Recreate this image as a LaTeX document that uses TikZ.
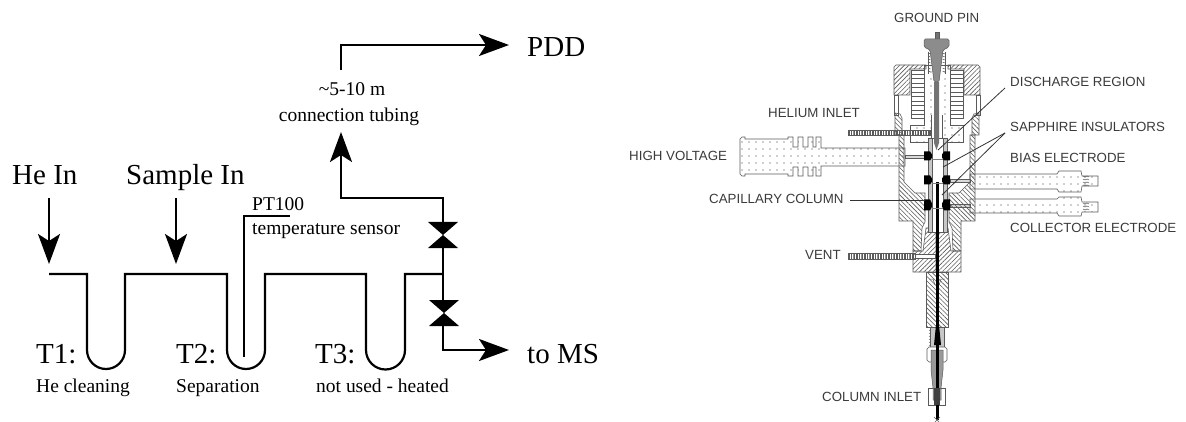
\documentclass[tikz,border=0pt]{standalone}
\usepackage{fontspec}
\setmainfont{Liberation Serif}
\newfontfamily\labfont{Liberation Sans}
\usetikzlibrary{arrows.meta,patterns.meta}
\definecolor{edge}{HTML}{5A5A5A}
\definecolor{hatch}{HTML}{5A5A5A}
\definecolor{labgray}{HTML}{3A3A3A}
\tikzset{
  pipe/.style={line width=2.2pt,line join=miter},
  flow/.style={pipe,-{Stealth[length=30pt,width=22pt,inset=7pt]}},
  big/.style={anchor=base west,inner sep=0pt,font=\fontsize{29}{32}\selectfont},
  small/.style={anchor=base west,inner sep=0pt,font=\fontsize{19.5}{22}\selectfont},
  valve/.style={rectangle,inner sep=0pt,minimum width=30pt,minimum height=26pt,
    path picture={\fill[black] (path picture bounding box.north west)--(path picture bounding box.north east)--(path picture bounding box.south west)--(path picture bounding box.south east)--cycle;}},
  lab/.style={anchor=base west,inner sep=0pt,text=labgray,font=\labfont\fontsize{13.3}{15}\selectfont},
  leader/.style={line width=.8pt,draw=black!80},
  ne/.style={draw=edge,line width=.6pt,pattern={Lines[angle=45,distance=3.2pt,line width=.6pt]},pattern color=hatch},
  nw/.style={draw=edge,line width=.6pt,pattern={Lines[angle=-45,distance=3.2pt,line width=.6pt]},pattern color=hatch},
  dotty/.style={draw=edge,line width=.6pt,fill=white,postaction={pattern={Dots[distance=7pt,radius=.55pt]},pattern color=black!80}},
  wall/.style={draw=edge,line width=.6pt,fill=white},
  ins/.style={fill=black},
}
\begin{document}
\begin{tikzpicture}[x=1pt,y=-1pt]
\useasboundingbox (0,0) rectangle (1186,422);
% ---------- left scheme ----------
\node[big] (hein) at (12,185) {He In};
\node[big] (samplein) at (126,185) {Sample In};
\node[big] (t1) at (36,363) {T1:};
\node[big] (t2) at (176,363) {T2:};
\node[big] (t3) at (315,363) {T3:};
\node[big] (pdd) at (527,57) {PDD};
\node[big] (toms) at (527,363) {to MS};
\node[small] (he) at (36,392) {He cleaning};
\node[small] (sep) at (176,392) {Separation};
\node[small] (notused) at (316,392) {not used - heated};
\node[small] (pt) at (252,211) {PT100};
\node[small] (temp) at (252,235) {temperature sensor};
\node[small,anchor=base] (len) at (352,96) {\textasciitilde5-10 m};
\node[small,anchor=base] (tubing) at (349,122) {connection tubing};
\node[valve] (v1) at (443,235) {};
\node[valve] (v2) at (444,313) {};
\coordinate (start) at (49,274);
\coordinate (junction) at (443,274);
\coordinate (heTop) at (49,198);
\coordinate (sTop) at (176,198);
\coordinate (sTip) at (176,264);
\coordinate (heTip) at (49,264);
\coordinate (upTip) at (341,132);
\coordinate (pddStart) at (341,70);
\coordinate (pddTip) at (509,45);
\coordinate (msTip) at (509,350);
\coordinate (sensorEnd) at (244,357);
\coordinate (sensorTop) at (290,216);
\draw[flow] (heTop) -- (heTip);
\draw[flow] (sTop) -- (sTip);
\draw[pipe] (start) -- (87,274) -- (87,350) arc[start angle=180,end angle=0,radius=19] -- (125,274)
  -- (227,274) -- (227,350) arc[start angle=180,end angle=0,radius=19] -- (265,274)
  -- (366,274) -- (366,350) arc[start angle=180,end angle=0,radius=19.5] -- (405,274) -- (junction);
\draw[line width=1.8pt] (sensorEnd) |- (sensorTop);
\draw[pipe] (junction) -- (v1.south);
\draw[flow] (v1.north) -- (443,198) -- (341,198) -- (upTip);
\draw[flow] (pddStart) |- (pddTip);
\draw[pipe] (junction) -- (443,300);
\draw[flow] (443,326) |- (msTip);
% ---------- right labels ----------
\node[lab] (ground) at (894,23) {GROUND PIN};
\node[lab] (helium) at (768,118) {HELIUM INLET};
\node[lab] (hv) at (629,161) {HIGH VOLTAGE};
\node[lab] (cap) at (709,204) {CAPILLARY COLUMN};
\node[lab] (disch) at (1010,87) {DISCHARGE REGION};
\node[lab] (sapph) at (1010,132) {SAPPHIRE INSULATORS};
\node[lab] (bias) at (1010,163) {BIAS ELECTRODE};
\node[lab] (coll) at (1010,233) {COLLECTOR ELECTRODE};
\node[lab] (vent) at (805,259) {VENT};
\node[lab] (colin) at (822,401) {COLUMN INLET};
% ---------- horizontal connectors ----------
\filldraw[dotty] (740,139)--(742,137)--(745,137)--(745,139)--(788,139)--(788,137)--(793,137)--(793,147)--(798,147)--(798,137)--(803,137)--(803,147)--(808,147)--(808,137)--(813,137)--(813,147)--(816,147)--(816,137)--(821,137)--(821,148)
  --(905,148)--(905,166)--(821,166)--(821,176)--(816,176)--(816,167)--(813,167)--(813,176)--(808,176)--(808,167)--(803,167)--(803,176)--(798,176)--(798,167)--(793,167)--(793,176)--(788,176)--(788,174)--(745,174)--(745,176)--(742,176)--(740,174)--cycle;
\draw[draw=edge,fill=black!15,line width=.5pt] (905,155) rectangle (925,158);
\filldraw[dotty] (970,174)--(1057,174)--(1059,171)--(1081,171)--(1082,176)--(1098,176)--(1098,186)--(1082,186)--(1081,192)--(1059,192)--(1057,189)--(970,189)--cycle;
\filldraw[dotty] (970,199)--(1057,199)--(1059,197)--(1081,197)--(1082,202)--(1098,202)--(1098,212)--(1082,212)--(1081,216)--(1059,216)--(1057,213)--(970,213)--cycle;
\draw[draw=edge,fill=black!15,line width=.5pt] (950,179) rectangle (970,182);
\draw[draw=edge,fill=black!15,line width=.5pt] (950,204) rectangle (970,207);
\foreach \yy in {176,179,182,185,203,206,209}
  \draw[edge,line width=.5pt] (1083,\yy) -- ++(2,1) -- ++(2,-1) -- ++(2,1);
% ---------- device body ----------
\begin{scope}[shift={(937,0)}]
  % dotted insulator
  \filldraw[dotty] (-13,65)--(13,65)--(13,125)--(26,125)--(26,142)--(-27,142)--(-27,125)--(-13,125)--cycle;
  \foreach \s in {1,-1}{
  \begin{scope}[xscale=\s]
    % cap
    \filldraw[wall] (-43,95)--(-43,115)--(-39,115)--(-39,95)--cycle;
    \filldraw[ne] (-41,65)--(-11,65)--(-11,69)--(-27,69)--(-27,95)--(-43,95)--(-43,67)--cycle;
    \filldraw[wall] (-26,70) rectangle (-13,118);
    \foreach \yy in {74,78.5,83,87.5,92,96.5,101,105.5,110,114.5}
      \draw[edge,line width=.6pt] (-26,\yy) -- (-13,\yy);
    % clip
    \filldraw[nw] (-42,113)--(-37,114)--(-35,118)--(-35,135)--(-42,135)--cycle;
    % wall, flange and outer lower body
    \filldraw[nw] (-38,135)--(-33,135)--(-33,182)--(-22,193)--(-12,193)--(-12,222)--(-15,228)--(-16,251)--(-24,251)--(-24,221)--(-38,221)--cycle;
    % inner cone and lower block
    \filldraw[ne] (-11,228)--(-1,228)--(-1,272)--(-24,272)--(-24,251)--(-14,251)--cycle;
    % sleeve
    \filldraw[nw] (-11,272)--(-1,272)--(-1,327)--(-11,327)--cycle;
    \draw[edge,line width=.5pt] (-8,279)--(-4,279)--(-2,285);
    \foreach \yy in {330,333,336,339,342,345} \draw[edge,line width=.5pt] (-8,\yy) -- (-6,\yy+1);
  \end{scope}}
  % thread and nut
  \filldraw[draw=edge,fill=black!22,line width=.5pt] (-7,327) -- (7,327) -- (7,347) -- (-7,347) -- cycle;
  \filldraw[wall] (-10,349) -- (-8,347) -- (8,347) -- (10,349) -- (10,360) -- (8,362) -- (-8,362) -- (-10,360) -- cycle;
  \filldraw[draw=edge,fill=black!40,line width=.5pt] (-6,350)--(6,350)--(6,370)--(4,388)--(4,400)--(-4,400)--(-4,388)--(-6,370)--cycle;
  \draw[draw=edge,line width=.7pt] (-9,388) rectangle (8,405);
  % tube
  \filldraw[wall] (-9,138) rectangle (10,232);
  \fill[black!22] (-9,138) rectangle (-5,232) (6,138) rectangle (10,232);
  \draw[edge,line width=.6pt] (-9,138) rectangle (10,232) (-5,138)--(-5,232) (6,138)--(6,232);
  % pin
  \fill[black!55] (-3,82)--(2,82)--(2,143)--(-0.5,150)--(-3,143)--cycle;
  \draw[edge,line width=.5pt] (-6,115)--(-6,138) (5,115)--(5,138);
  \filldraw[draw=edge,line width=.5pt,fill=black!55] (-1.5,32) rectangle (2,40);
  \filldraw[draw=edge,line width=.5pt,fill=black!45,rounded corners=1.5pt] (-13,39)--(12,39)--(12,47)--(6,50)--(2,82)--(-3,82)--(-7,50)--(-13,47)--cycle;
  \foreach \yy in {53,56,59,62,65,68,71} \draw[edge,line width=.5pt] (-9,\yy)--(-6.5,\yy+1) (5.5,\yy)--(8,\yy+1);
  \draw[edge,line width=.5pt] (-9,52)--(-9,74) (8,52)--(8,74);
  % capillary
  \fill[black] (-1,182) rectangle (2,420);
  \fill[black] (-1,325)--(2,325)--(4,345)--(-3,345)--cycle;
  \fill[black!75] (-3,388)--(3,388)--(3,405)--(-3,405)--cycle;
  \draw[edge,line width=.6pt] (-3,423)--(3,417) (-3,417)--(3,423);
  % sapphire insulators
  \foreach \yy/\hh in {156/4.5,180/4.5,205/5.5}{
    \fill[ins] (-13,\yy-\hh)--(-7,\yy-\hh)--(-5,\yy-1.5)--(-5,\yy+1.5)--(-7,\yy+\hh)--(-13,\yy+\hh)--cycle;
    \fill[ins] (13,\yy-\hh)--(7,\yy-\hh)--(5,\yy-1.5)--(5,\yy+1.5)--(7,\yy+\hh)--(13,\yy+\hh)--cycle;
    \draw[black!50,line width=.5pt] (-5,\yy+3)--(6,\yy+3);
  }
\end{scope}
% vent and helium tubes
\draw[draw=edge,line width=.6pt,pattern={Lines[angle=90,distance=1.6pt,line width=.5pt]},pattern color=hatch] (848,130.5) rectangle (930,135.5);
\draw[draw=edge,line width=.6pt,pattern={Lines[angle=90,distance=1.6pt,line width=.5pt]},pattern color=hatch] (848,253) rectangle (915,259);
\draw[wall] (915,254) rectangle (935,258);
% leaders
\coordinate (dischEnd) at (938,150);
\coordinate (sapEndA) at (943,167);
\coordinate (sapEndB) at (942,195);
\coordinate (sapStart) at (1005,133);
\coordinate (dischStart) at (1005,88);
\coordinate (capEnd) at (925,200);
\coordinate (capStart) at (850,200);
\draw[leader] (dischStart) -- (dischEnd);
\draw[leader] (sapStart) -- (sapEndA);
\draw[leader] (sapStart) -- (sapEndB);
\draw[leader] (capStart) -- (capEnd);
\end{tikzpicture}
\end{document}
